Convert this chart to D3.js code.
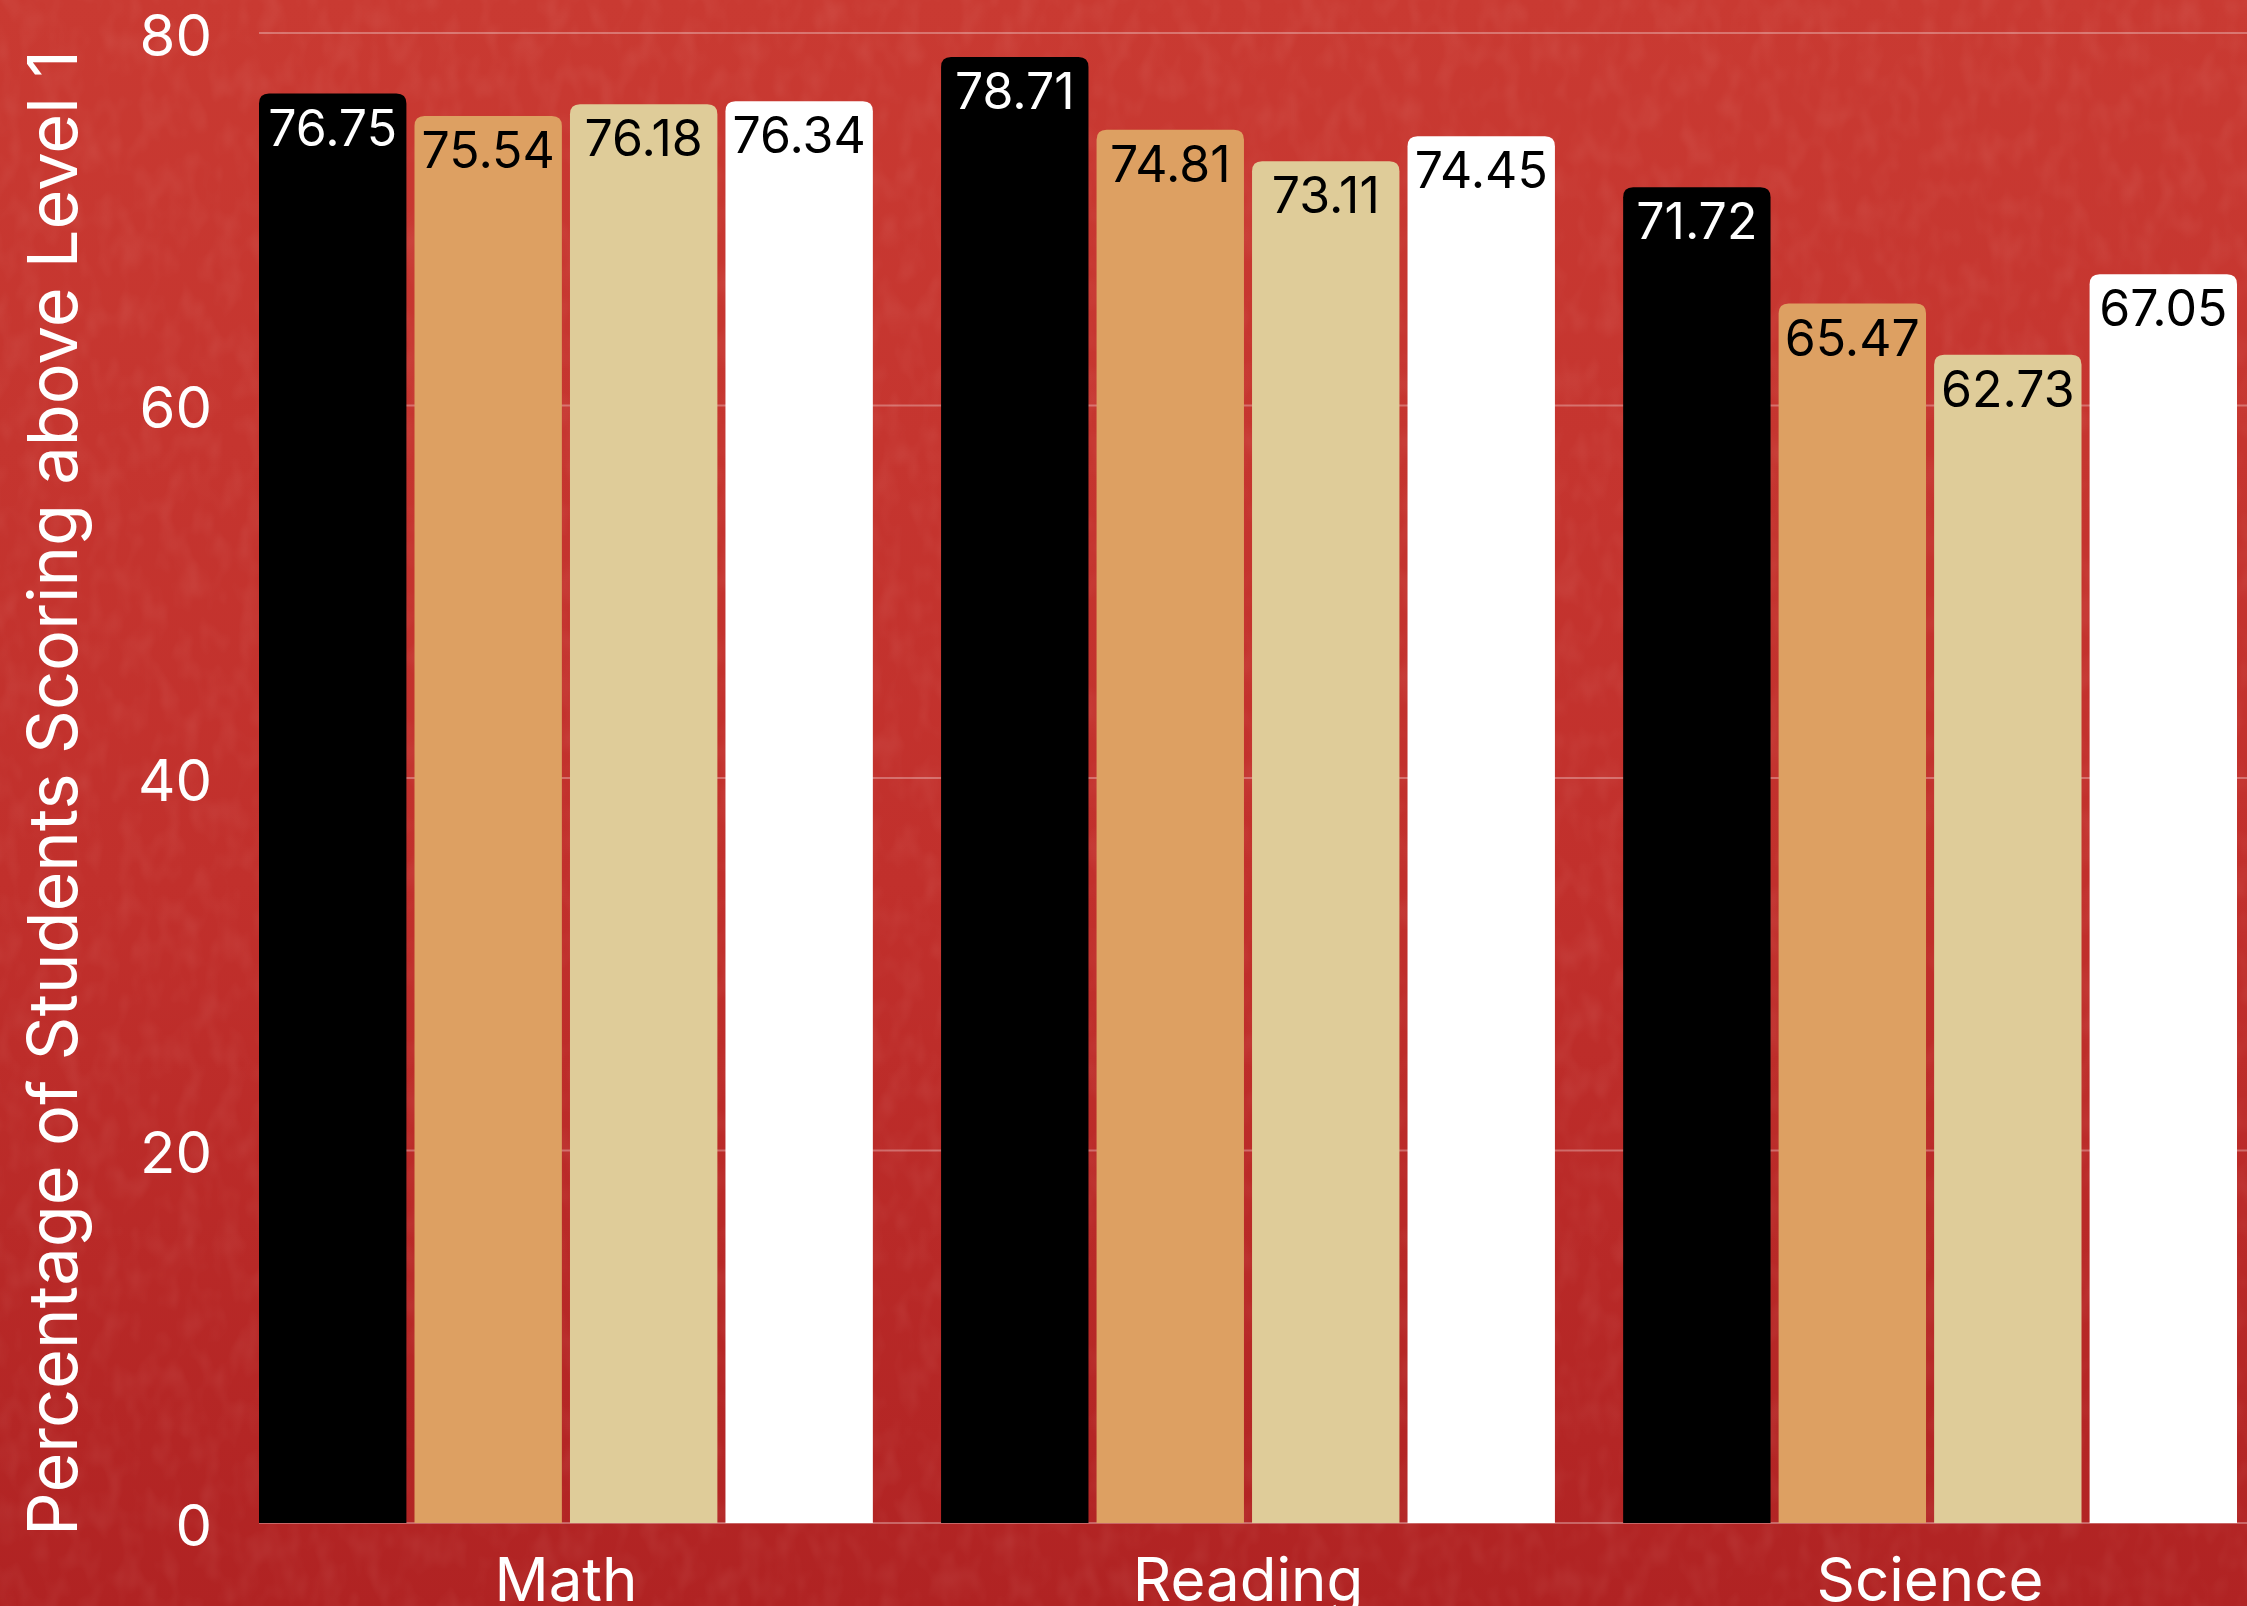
<!DOCTYPE html>
<html>
<head>
<meta charset="utf-8">
<script src="https://cdn.jsdelivr.net/npm/d3@7"></script>
<style>
  html, body { margin: 0; padding: 0; background: #bd2e2a; }
  svg { display: block; font-family: Inter, "Noto Sans", sans-serif; }
</style>
</head>
<body>
<svg id="chart" width="2247" height="1606"></svg>
<script>
// Subjects along the x axis
const subjects = ["Math", "Reading", "Science"];
// Four groups compared within each subject
const groups = ["Group 1", "Group 2", "Group 3", "Group 4"];
// Percentage of students scoring above Level 1, one array per group (Math, Reading, Science)
const group1 = [76.75, 78.71, 71.72];
const group2 = [75.54, 74.81, 65.47];
const group3 = [76.18, 73.11, 62.73];
const group4 = [76.34, 74.45, 67.05];
const yTicks = [0, 20, 40, 60, 80];

const seriesValues = [group1, group2, group3, group4];
const barColors = ["#000000", "#dda062", "#dfcc99", "#ffffff"];
const labelColors = ["#ffffff", "#000000", "#000000", "#000000"];

const W = 2247, H = 1606;
const svg = d3.select("#chart");
const defs = svg.append("defs");

// Red paper background: vertical gradient plus a fine grain
const grad = defs.append("linearGradient").attr("id", "bg").attr("x1", 0).attr("y1", 0).attr("x2", 0).attr("y2", 1);
grad.append("stop").attr("offset", "0%").attr("stop-color", "#c93a32");
grad.append("stop").attr("offset", "55%").attr("stop-color", "#c1302c");
grad.append("stop").attr("offset", "100%").attr("stop-color", "#b02323");

const grain = defs.append("filter").attr("id", "grain").attr("x", 0).attr("y", 0).attr("width", "100%").attr("height", "100%");
grain.append("feTurbulence").attr("type", "fractalNoise").attr("baseFrequency", "0.05 0.03").attr("numOctaves", 2).attr("seed", 7).attr("result", "noise");
grain.append("feColorMatrix").attr("type", "matrix")
  .attr("values", "0 0 0 0 1  0 0 0 0 0.7  0 0 0 0 0.65  0 0 0 1.2 -0.5");

svg.append("rect").attr("width", W).attr("height", H).attr("fill", "url(#bg)");
svg.append("rect").attr("width", W).attr("height", H).attr("filter", "url(#grain)").attr("opacity", 0.12);

const plot = { left: 259, right: 2237, top: 33, bottom: 1523 };

const x0 = d3.scaleBand().domain(subjects).range([plot.left, plot.right]).paddingInner(0.1).paddingOuter(0);
const x1 = d3.scaleBand().domain(d3.range(groups.length)).range([0, x0.bandwidth()]).paddingInner(0.052);
const y = d3.scaleLinear().domain([0, 80]).range([plot.bottom, plot.top]);

// Horizontal grid lines
svg.append("g").selectAll("line").data(yTicks).join("line")
  .attr("x1", plot.left).attr("x2", W)
  .attr("y1", d => y(d)).attr("y2", d => y(d))
  .attr("stroke", "#ffffff").attr("stroke-opacity", 0.3).attr("stroke-width", 2);

// Y axis tick labels
const yAxis = d3.axisLeft(y).tickValues(yTicks).tickSize(0).tickPadding(0).tickFormat(d3.format("d"));
svg.append("g").attr("transform", `translate(${plot.left - 47},0)`).call(yAxis)
  .call(g => g.select(".domain").remove())
  .selectAll("text")
  .attr("fill", "#ffffff").attr("font-size", 58).attr("font-family", "Inter, sans-serif")
  .attr("dy", "0.38em");

// Bars with rounded top corners
const r = 10;
function topRoundedRect(x, yTop, w, h) {
  const rr = Math.min(r, h, w / 2);
  return `M${x},${yTop + h}V${yTop + rr}Q${x},${yTop} ${x + rr},${yTop}H${x + w - rr}Q${x + w},${yTop} ${x + w},${yTop + rr}V${yTop + h}Z`;
}

const cells = [];
subjects.forEach((s, si) => {
  seriesValues.forEach((vals, gi) => {
    cells.push({ subject: s, gi, value: vals[si] });
  });
});

const bars = svg.append("g");
bars.selectAll("path").data(cells).join("path")
  .attr("d", d => {
    const bx = x0(d.subject) + x1(d.gi);
    const top = y(d.value);
    return topRoundedRect(bx, top, x1.bandwidth(), y(0) - top);
  })
  .attr("fill", d => barColors[d.gi]);

// Value labels inside the top of each bar
svg.append("g").selectAll("text").data(cells).join("text")
  .attr("x", d => x0(d.subject) + x1(d.gi) + x1.bandwidth() / 2)
  .attr("y", d => y(d.value) + 52)
  .attr("text-anchor", "middle")
  .attr("font-size", 50)
  .attr("fill", d => labelColors[d.gi])
  .text(d => d3.format(".2f")(d.value));

// Category labels
const xAxis = d3.axisBottom(x0).tickSize(0).tickPadding(0);
svg.append("g").attr("transform", `translate(0,${plot.bottom})`).call(xAxis)
  .call(g => g.select(".domain").remove())
  .selectAll("text")
  .attr("fill", "#ffffff").attr("font-size", 60).attr("font-family", "Inter, sans-serif")
  .attr("dy", 0).attr("y", 78);

// Y axis title
svg.append("text")
  .attr("transform", `translate(77,${(plot.top + plot.bottom) / 2 + 15}) rotate(-90)`)
  .attr("text-anchor", "middle")
  .attr("fill", "#ffffff")
  .attr("font-size", 68.5)
  .text("Percentage of Students Scoring above Level 1");
</script>
</body>
</html>
